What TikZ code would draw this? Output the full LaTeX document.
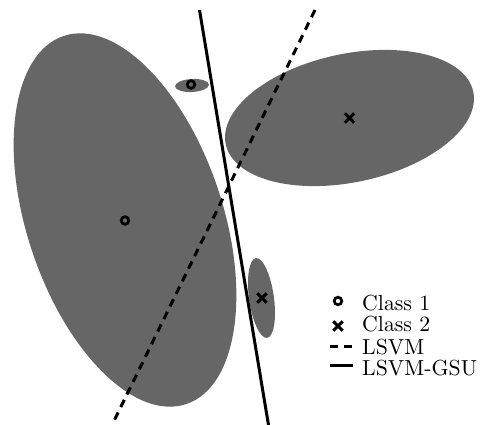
\documentclass[tikz,border=0pt]{standalone}
\usetikzlibrary{shapes.misc}
\newcommand{\legscale}[1]{\scalebox{2.18}{\fontsize{10}{12}\selectfont #1}}
\begin{document}
\begin{tikzpicture}[x=1pt,y=-1pt,
  blob/.style={fill=black!60},
  sepline/.style={line width=3pt},
  dashline/.style={line width=3pt, dash pattern=on 8pt off 6pt},
  classone/.style={circle, draw, line width=2.7pt, inner sep=0pt, minimum size=7.6pt, outer sep=0pt},
  classtwo/.style={cross out, draw, line width=3pt, inner sep=0pt, minimum size=9.4pt, outer sep=0pt},
  legtext/.style={anchor=base west, inner sep=0pt}]
\useasboundingbox (0,0) rectangle (482,425);
% covariance ellipses
\fill[blob, shift={(125,220)}, rotate=18.4] (0,0) ellipse [x radius=98pt, y radius=194pt];
\fill[blob, shift={(192,85.5)}, rotate=3] (0,0) ellipse [x radius=17pt, y radius=6.5pt];
\fill[blob, shift={(349.5,118)}, rotate=12] (0,0) ellipse [x radius=126.5pt, y radius=64.2pt];
\fill[blob, shift={(261.5,298)}, rotate=8] (0,0) ellipse [x radius=12.4pt, y radius=40.3pt];
% separating lines
\coordinate (s1) at (199.5,10);
\coordinate (s2) at (268.5,425);
\coordinate (d1) at (315,10);
\coordinate (d2) at (112,425);
\draw[sepline] (s1) -- (s2);
\draw[dashline] (d1) -- (d2);
% markers
\node[classone] (c1a) at (125,220.5) {};
\node[classone] (c1b) at (191,84.5) {};
\node[classtwo] (c2a) at (349.5,118) {};
\node[classtwo] (c2b) at (262,298) {};
% legend
\node[classone] (lc1) at (338,301) {};
\node[classtwo] (lc2) at (338,326) {};
\coordinate (ld1) at (330,346);
\coordinate (ld2) at (353,346);
\coordinate (ls1) at (330,365);
\coordinate (ls2) at (353,365);
\draw[dashline] (ld1) -- (ld2);
\draw[sepline] (ls1) -- (ls2);
\node[legtext] (t1) at (362,310) {\legscale{Class 1}};
\node[legtext] (t2) at (362,331.7) {\legscale{Class 2}};
\node[legtext] (t3) at (362,354) {\legscale{LSVM}};
\node[legtext] (t4) at (362,375) {\legscale{LSVM-GSU}};
\end{tikzpicture}
\end{document}
